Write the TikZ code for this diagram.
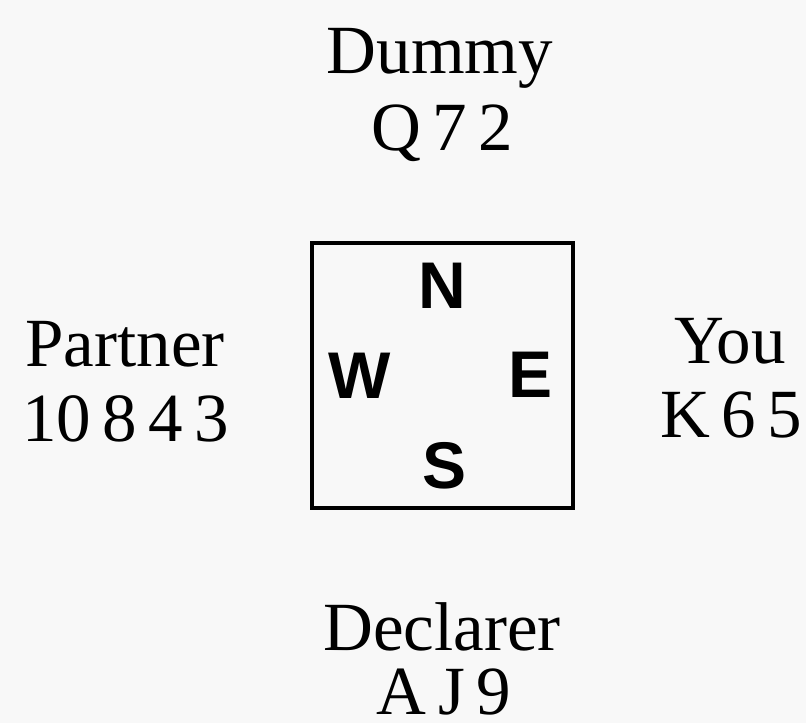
\documentclass[tikz,border=0pt]{standalone}
\usepackage{fontspec}
\setmainfont{Liberation Serif}
\newfontfamily\compassfont{Liberation Sans}
\usepackage{tikz}
\usetikzlibrary{positioning}
\definecolor{paper}{RGB}{248,248,248}

\begin{document}
\begin{tikzpicture}[
  x=1pt, y=-1pt,
  hand/.style={anchor=base, inner sep=0pt, font=\fontsize{69}{75}\selectfont},
  cards/.style={hand},
  seat/.style={inner sep=0pt, font=\compassfont\bfseries\fontsize{66}{70}\selectfont},
  tbl/.style={draw, line width=3.2pt, minimum width=261pt, minimum height=265pt, inner sep=0pt}
]
\fill[paper] (0,0) rectangle (806,723);
\useasboundingbox (0,0) rectangle (806,723);
% the table
\node[tbl] (table) at (442.5,375.5) {};
\node[seat] (n) at (442,286) {N};
\node[seat] (w) at (360,376) {W};
\node[seat] (e) at (531,375) {E};
\node[seat] (s) at (445,466) {S};
% the four hands
\node[hand] (dummy) at (440,73) {Dummy};
\node[cards] (dummyc) at (442,150) {Q\,7\,2};
\node[hand] (partner) at (125,366) {Partner};
\node[cards] (partnerc) at (126,441) {10\,8\,4\,3};
\node[hand] (you) at (730,363) {You};
\node[cards] (youc) at (731,437) {K\,6\,5};
\node[hand] (decl) at (442,650) {Declarer};
\node[cards] (declc) at (444,714) {A\,J\,9};
\end{tikzpicture}
\end{document}
